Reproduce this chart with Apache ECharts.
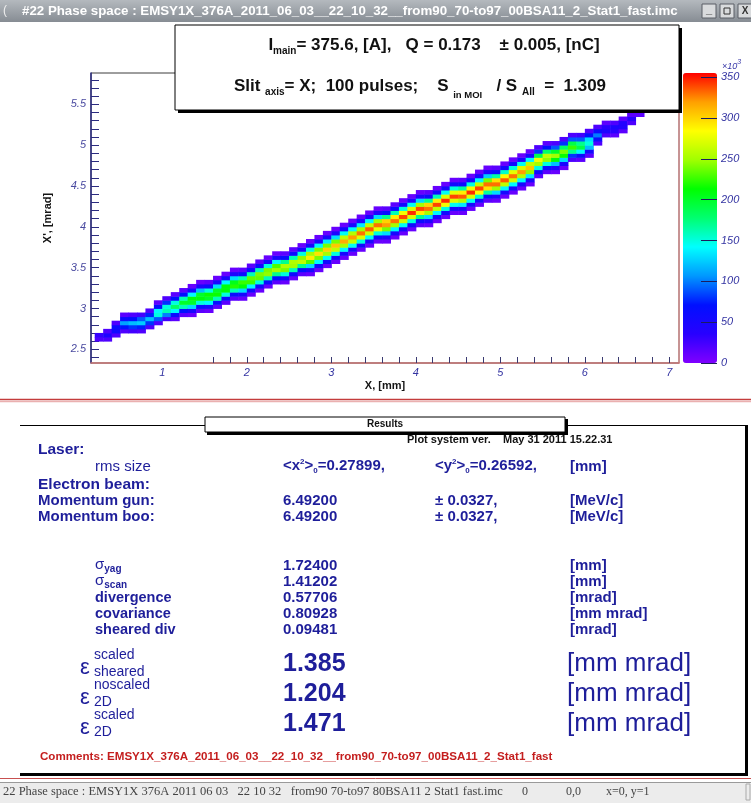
<!DOCTYPE html>
<html><head><meta charset="utf-8">
<script src="https://cdn.jsdelivr.net/npm/echarts@6/dist/echarts.min.js"></script>
<style>html,body{margin:0;padding:0;background:#fff}#c{width:751px;height:803px}</style>
</head><body><div id="c"></div>
<script>
// ---------------- DATA ----------------
// 2D histogram: left edge of each X column (mm), lowest Y bin of the column (mrad), counts (x10^3) upward
const xBinWidth = 0.1;
const yBinHeight = 0.05;
const colX = [0.2,0.3,0.4,0.5,0.6,0.7,0.8,0.9,1.0,1.1,1.2,1.3,1.4,1.5,1.6,1.7,1.8,1.9,2.0,2.1,2.2,2.3,2.4,2.5,2.6,2.7,2.8,2.9,3.0,3.1,3.2,3.3,3.4,3.5,3.6,3.7,3.8,3.9,4.0,4.1,4.2,4.3,4.4,4.5,4.6,4.7,4.8,4.9,5.0,5.1,5.2,5.3,5.4,5.5,5.6,5.7,5.8,5.9,6.0,6.1,6.2,6.3,6.4,6.5,6.6];
const colYStart = [2.60,2.60,2.65,2.70,2.70,2.70,2.75,2.80,2.85,2.85,2.90,2.90,2.95,2.95,3.00,3.05,3.10,3.10,3.15,3.20,3.25,3.30,3.30,3.35,3.40,3.40,3.45,3.50,3.55,3.60,3.65,3.70,3.75,3.80,3.80,3.85,3.90,3.95,4.00,4.00,4.05,4.10,4.15,4.15,4.20,4.25,4.30,4.30,4.35,4.40,4.45,4.50,4.60,4.65,4.65,4.70,4.80,4.80,4.85,5.00,5.10,5.10,5.15,5.25,5.35];
const colValues = [
  [20,30],
  [20,45,20],
  [20,55,60,20],
  [20,70,110,60,15],
  [25,80,120,70,20],
  [20,75,125,90,25],
  [20,80,120,75,20],
  [20,90,150,140,70,15],
  [25,100,160,150,80,20],
  [15,60,140,180,150,70,15],
  [15,70,160,200,160,70,15],
  [10,50,130,200,210,140,55,10],
  [15,60,150,210,200,120,45,10],
  [10,50,140,200,215,150,60,15],
  [15,65,160,215,200,130,50,10],
  [15,60,150,210,210,140,50,10],
  [15,60,160,220,205,130,45,10],
  [10,50,130,210,225,160,60,15],
  [10,55,140,225,235,160,60,15],
  [10,55,150,235,240,160,60,15],
  [10,60,160,245,240,150,55,10],
  [15,70,170,250,230,140,50,10],
  [10,55,150,240,255,170,65,15],
  [10,60,160,250,255,160,60,15],
  [15,70,170,260,245,150,55,10],
  [10,50,130,230,290,250,150,55,10],
  [10,55,140,240,295,240,140,50,10],
  [10,55,145,250,300,240,135,50,10],
  [10,55,150,260,305,240,130,45,10],
  [10,50,140,250,315,260,145,55,10],
  [10,50,145,260,320,255,140,50,10],
  [10,55,150,270,330,250,135,50,10],
  [10,50,145,265,335,260,140,50,10],
  [10,55,150,275,330,250,130,45,10],
  [10,45,130,240,320,300,170,65,15],
  [10,50,140,250,330,290,160,60,15],
  [10,50,145,265,340,280,150,55,10],
  [10,55,150,270,345,270,145,50,10],
  [15,60,170,290,340,250,130,45,10],
  [10,45,130,250,330,300,170,60,15],
  [10,50,140,260,340,290,160,55,10],
  [10,55,150,280,345,270,145,50,10],
  [10,50,145,270,340,275,150,55,10],
  [10,45,135,255,335,290,165,60,15],
  [10,50,145,270,345,280,150,55,10],
  [10,55,155,285,340,260,140,50,10],
  [15,60,165,295,330,240,125,45,10],
  [10,45,130,250,330,295,165,60,15],
  [10,50,140,260,335,285,155,55,10],
  [10,50,140,265,330,275,150,55,10],
  [10,50,140,255,320,270,145,50,10],
  [10,50,135,245,305,260,140,50,10],
  [15,60,150,250,280,190,80,20],
  [15,60,150,245,260,180,70,15],
  [10,45,120,210,250,200,90,20],
  [10,50,130,215,240,180,80,20],
  [20,80,170,225,190,90,20],
  [15,60,140,190,170,90,25],
  [15,55,120,150,130,70,20],
  [20,60,100,60,20],
  [20,45,35,15],
  [15,35,45,20],
  [15,40,40,15],
  [20,35,15],
  [15]
];
const xTickLabels = [1,2,3,4,5,6,7];
const xMinorTicks = [1.6,1.8,2.0,2.2,2.4,2.6,2.8,3.0,3.2,3.4,3.6,3.8,4.0,4.2,4.4,4.6,4.8,5.0,5.2,5.4,5.6,5.8,6.0,6.2,6.4,6.6,6.8,7.0];
const yTickLabels = [2.5,3,3.5,4,4.5,5,5.5];
const yMinorTicks = [2.4,2.5,2.6,2.7,2.8,2.9,3.0,3.1,3.2,3.3,3.4,3.5,3.6,3.7,3.8,3.9,4.0,4.1,4.2,4.3,4.4,4.5,4.6,4.7,4.8,4.9,5.0,5.1,5.2,5.3,5.4,5.5,5.6,5.7,5.8];
const zTickLabels = [0,50,100,150,200,250,300,350];
const zMax = 355;
const xRange = [0.156, 7.114];
const yRange = [2.332, 5.883];

// ---------------- BUILD ----------------
const cells = [];
colX.forEach((x, i) => {
  colValues[i].forEach((v, j) => {
    const y = +(colYStart[i] + j * yBinHeight).toFixed(3);
    cells.push([x, y, +(x + xBinWidth).toFixed(3), +(y + yBinHeight).toFixed(3), v]);
  });
});

const FF = 'Liberation Sans';
const BLUE = '#1e1e9a';

function T(x, y, text, o) {
  o = o || {};
  return {
    type: 'text', x: x, y: y, z: o.z || 20,
    style: Object.assign({
      text: text, fill: o.fill || BLUE,
      fontSize: o.size || 13, fontWeight: o.weight || 'bold', fontFamily: o.family || FF,
      fontStyle: o.style || 'normal',
      align: o.align || 'left', textAlign: o.align || 'left',
      verticalAlign: 'middle', textVerticalAlign: 'middle'
    }, o.rich ? { rich: o.rich } : {})
  };
}
function R(x, y, w, h, fill, stroke, lw, z) {
  return { type: 'rect', z: z || 10, shape: { x: x, y: y, width: w, height: h },
    style: { fill: fill || 'none', stroke: stroke || null, lineWidth: lw || 1 } };
}
function L(x1, y1, x2, y2, color, lw, z) {
  return { type: 'line', z: z || 10, shape: { x1: x1, y1: y1, x2: x2, y2: y2 },
    style: { stroke: color, lineWidth: lw || 1 } };
}
function tok(size, weight, fill, pad, style) {
  const t = { fontSize: size, fontWeight: weight, fontFamily: FF, fill: fill };
  if (pad) t.padding = pad;
  if (style) t.fontStyle = style;
  return t;
}

const boxRich = {
  b: tok(17, 'bold', '#111'),
  s: tok(10, 'bold', '#111', [12, 0, 0, 0]),
  t: tok(9.5, 'bold', '#111', [18, 0, 0, 0])
};
const valRich = {
  m: tok(15, 'bold', BLUE),
  sup: tok(8, 'bold', BLUE, [0, 0, 9, 0]),
  sub: tok(8, 'bold', BLUE, [9, 0, 0, 0])
};
const sigRich = {
  m: tok(15, 'normal', BLUE),
  sub: tok(10, 'bold', BLUE, [9, 0, 0, 0])
};

const graphics = [
  // window title bar
  { type: 'rect', z: 1, shape: { x: 0, y: 0, width: 751, height: 22 },
    style: { fill: new echarts.graphic.LinearGradient(0, 0, 0, 1, [{ offset: 0, color: '#b4b9be' }, { offset: 1, color: '#868c93' }]) } },
  T(3, 11, '(', { fill: '#eee', size: 12, weight: 'normal' }),
  T(22, 11, '#22 Phase space : EMSY1X_376A_2011_06_03__22_10_32__from90_70-to97_00BSA11_2_Stat1_fast.imc', { fill: '#ffffff', size: 13.3 }),
  R(702, 4, 14, 14, '#d9dbdd', '#5a5f66', 1, 2),
  R(720, 4, 14, 14, '#d9dbdd', '#5a5f66', 1, 2),
  R(738, 4, 14, 14, '#d9dbdd', '#5a5f66', 1, 2),
  T(709, 10, '_', { fill: '#333', size: 11, align: 'center' }),
  R(724, 8, 6, 6, 'none', '#333', 1, 3),
  T(745, 11, 'X', { fill: '#333', size: 10, align: 'center' }),

  // info box on plot
  R(178, 28, 504, 85, '#000', null, 1, 11),
  R(175, 25, 504, 85, '#fff', '#000', 1, 12),
  T(434, 45, '{b|I}{s|main}{b|= 375.6, [A],   Q = 0.173    ± 0.005, [nC]}', { rich: boxRich, align: 'center', z: 13 }),
  T(420, 86, '{b|Slit }{s|axis}{b|= X;  100 pulses;    S }{t|in MOI}{b|   / S }{s|All}{b|  =  1.309}', { rich: boxRich, align: 'center', z: 13 }),

  // palette exponent
  T(722, 66, '{a|×10}{p|3}', { rich: { a: tok(9, 'normal', '#3838a8', null, 'italic'), p: tok(7, 'normal', '#3838a8', [0, 0, 7, 0], 'italic') }, z: 13 }),

  // separator red line
  L(0, 399.5, 751, 399.5, '#c43c3c', 1.5),
  L(0, 401.5, 751, 401.5, '#eab0b0', 1.5),

  // results panel frame
  L(20, 425.5, 205, 425.5, '#000', 1),
  L(566, 425.5, 746, 425.5, '#000', 1),
  R(745, 425, 3, 351, '#000', null, 1, 10),
  R(20, 773, 728, 3, '#000', null, 1, 10),
  L(0, 778.5, 751, 778.5, '#c85050', 1),
  R(207, 419, 361, 16, '#000', null, 1, 11),
  R(205, 417, 360, 15, '#fff', '#000', 1, 12),
  T(385, 424.5, 'Results', { fill: '#111', size: 10, align: 'center', z: 13 }),
  T(407, 440, 'Plot system ver.    May 31 2011 15.22.31', { fill: '#111', size: 11 }),

  T(38, 450, 'Laser:', { size: 15.5 }),
  T(95, 467, 'rms size', { size: 15, weight: 'normal' }),
  T(283, 466, '{m|<x}{sup|2}{m|>}{sub|0}{m|=0.27899,}', { rich: valRich }),
  T(435, 466, '{m|<y}{sup|2}{m|>}{sub|0}{m|=0.26592,}', { rich: valRich }),
  T(570, 467, '[mm]', { size: 15 }),
  T(38, 485, 'Electron beam:', { size: 15.5 }),
  T(38, 501, 'Momentum gun:', { size: 15 }),
  T(283, 501, '6.49200', { size: 15 }),
  T(435, 501, '± 0.0327,', { size: 15 }),
  T(570, 501, '[MeV/c]', { size: 15 }),
  T(38, 517, 'Momentum boo:', { size: 15 }),
  T(283, 517, '6.49200', { size: 15 }),
  T(435, 517, '± 0.0327,', { size: 15 }),
  T(570, 517, '[MeV/c]', { size: 15 }),

  T(95, 565, '{m|σ}{sub|yag}', { rich: sigRich }),
  T(283, 566, '1.72400', { size: 15 }),
  T(570, 566, '[mm]', { size: 15 }),
  T(95, 581, '{m|σ}{sub|scan}', { rich: sigRich }),
  T(283, 582, '1.41202', { size: 15 }),
  T(570, 582, '[mm]', { size: 15 }),
  T(95, 598, 'divergence', { size: 14.5 }),
  T(283, 598, '0.57706', { size: 15 }),
  T(570, 598, '[mrad]', { size: 15 }),
  T(95, 614, 'covariance', { size: 14.5 }),
  T(283, 614, '0.80928', { size: 15 }),
  T(570, 614, '[mm mrad]', { size: 15 }),
  T(95, 630, 'sheared div', { size: 14.5 }),
  T(283, 630, '0.09481', { size: 15 }),
  T(570, 630, '[mrad]', { size: 15 }),

  T(80, 668, 'ε', { size: 22, weight: 'normal' }),
  T(94, 655, 'scaled', { size: 14, weight: 'normal' }),
  T(94, 672, 'sheared', { size: 14, weight: 'normal' }),
  T(283, 664, '1.385', { size: 25 }),
  T(567, 664, '[mm mrad]', { size: 26, weight: 'normal' }),
  T(80, 698, 'ε', { size: 22, weight: 'normal' }),
  T(94, 685, 'noscaled', { size: 14, weight: 'normal' }),
  T(94, 702, '2D', { size: 14, weight: 'normal' }),
  T(283, 694, '1.204', { size: 25 }),
  T(567, 694, '[mm mrad]', { size: 26, weight: 'normal' }),
  T(80, 728, 'ε', { size: 22, weight: 'normal' }),
  T(94, 715, 'scaled', { size: 14, weight: 'normal' }),
  T(94, 732, '2D', { size: 14, weight: 'normal' }),
  T(283, 724, '1.471', { size: 25 }),
  T(567, 724, '[mm mrad]', { size: 26, weight: 'normal' }),

  T(40, 757, 'Comments: EMSY1X_376A_2011_06_03__22_10_32__from90_70-to97_00BSA11_2_Stat1_fast', { fill: '#c41e1e', size: 11.6 }),

  // status bar
  R(0, 782, 751, 21, '#ececec', null, 1, 1),
  L(0, 782.5, 751, 782.5, '#9a9a9a', 1, 2),
  R(746, 784, 4, 16, 'none', '#aaa', 1, 2),
  T(3, 792, '22 Phase space : EMSY1X 376A 2011 06 03   22 10 32   from90 70-to97 80BSA11 2 Stat1 fast.imc', { fill: '#444', size: 12.5, weight: 'normal', family: 'Liberation Serif' }),
  T(522, 792, '0', { fill: '#444', size: 12, weight: 'normal', family: 'Liberation Serif' }),
  T(566, 792, '0,0', { fill: '#444', size: 12, weight: 'normal', family: 'Liberation Serif' }),
  T(606, 792, 'x=0, y=1', { fill: '#444', size: 12, weight: 'normal', family: 'Liberation Serif' })
];

const chart = echarts.init(document.getElementById('c'), null, { renderer: 'canvas' });
const axisLabelStyle = { fontStyle: 'italic', fontFamily: FF, fontSize: 11, color: '#3434a2' };

chart.setOption({
  animation: false,
  backgroundColor: '#fff',
  grid: [
    { left: 91, top: 73, width: 588, height: 290, show: true, borderColor: '#3c3c3c', borderWidth: 1 },
    { left: 683, top: 73, width: 34, height: 290, show: false }
  ],
  xAxis: [
    { gridIndex: 0, type: 'value', min: xRange[0], max: xRange[1],
      splitLine: { show: false },
      axisLine: { onZero: false, lineStyle: { color: '#c97474', width: 1.5 } },
      axisTick: { inside: true, length: 6, customValues: xMinorTicks, lineStyle: { color: '#3a3a70' } },
      axisLabel: Object.assign({ customValues: xTickLabels, margin: 4 }, axisLabelStyle),
      name: 'X, [mm]', nameLocation: 'middle', nameGap: 17,
      nameTextStyle: { fontWeight: 'bold', fontSize: 11, color: '#151515', fontFamily: FF } },
    { gridIndex: 1, type: 'value', min: 0, max: 1, show: false }
  ],
  yAxis: [
    { gridIndex: 0, type: 'value', min: yRange[0], max: yRange[1],
      splitLine: { show: false },
      axisLine: { onZero: false, lineStyle: { color: '#2b2b80', width: 1.5 } },
      axisTick: { inside: true, length: 8, customValues: yMinorTicks, lineStyle: { color: '#2b2b80' } },
      axisLabel: Object.assign({ customValues: yTickLabels, margin: 5, formatter: v => String(+v.toFixed(2)) }, axisLabelStyle, { color: '#4a4aa0' }),
      name: "X', [mrad]", nameLocation: 'middle', nameGap: 38, nameRotate: 90,
      nameTextStyle: { fontWeight: 'bold', fontSize: 11, color: '#151515', fontFamily: FF } },
    { gridIndex: 1, type: 'value', min: 0, max: zMax, position: 'right', z: 10,
      splitLine: { show: false }, axisLine: { show: false, onZero: false },
      axisTick: { inside: true, length: 16, customValues: zTickLabels, lineStyle: { color: '#1c1c60' } },
      axisLabel: Object.assign({ customValues: zTickLabels, margin: 4 }, axisLabelStyle) },
    { gridIndex: 0, type: 'value', min: yRange[0], max: yRange[1], position: 'right',
      splitLine: { show: false }, axisTick: { show: false }, axisLabel: { show: false },
      axisLine: { show: true, onZero: false, lineStyle: { color: '#d49090', width: 1.5 } } }
  ],
  visualMap: {
    type: 'continuous', seriesIndex: 0, dimension: 4, min: 0, max: zMax, z: 4,
    show: true, calculable: false, hoverLink: false, orient: 'vertical',
    left: 683, top: 73, itemWidth: 34, itemHeight: 290, padding: 0,
    inRange: { color: ['#8000ff', '#2800ff', '#0010ff', '#0098ff', '#00ffff', '#00ff70', '#00ff00', '#a0ff00', '#ffff00', '#ffa000', '#ff0000'] }
  },
  series: [{
    type: 'custom', xAxisIndex: 0, yAxisIndex: 0, data: cells, clip: true,
    encode: { x: [0, 2], y: [1, 3] },
    renderItem: function (params, api) {
      const p0 = api.coord([api.value(0), api.value(1)]);
      const p1 = api.coord([api.value(2), api.value(3)]);
      return { type: 'rect',
        shape: { x: p0[0], y: p1[1], width: p1[0] - p0[0] + 0.5, height: p0[1] - p1[1] + 0.5 },
        style: { fill: api.visual('color') } };
    }
  }],
  graphic: graphics
});
</script></body></html>
